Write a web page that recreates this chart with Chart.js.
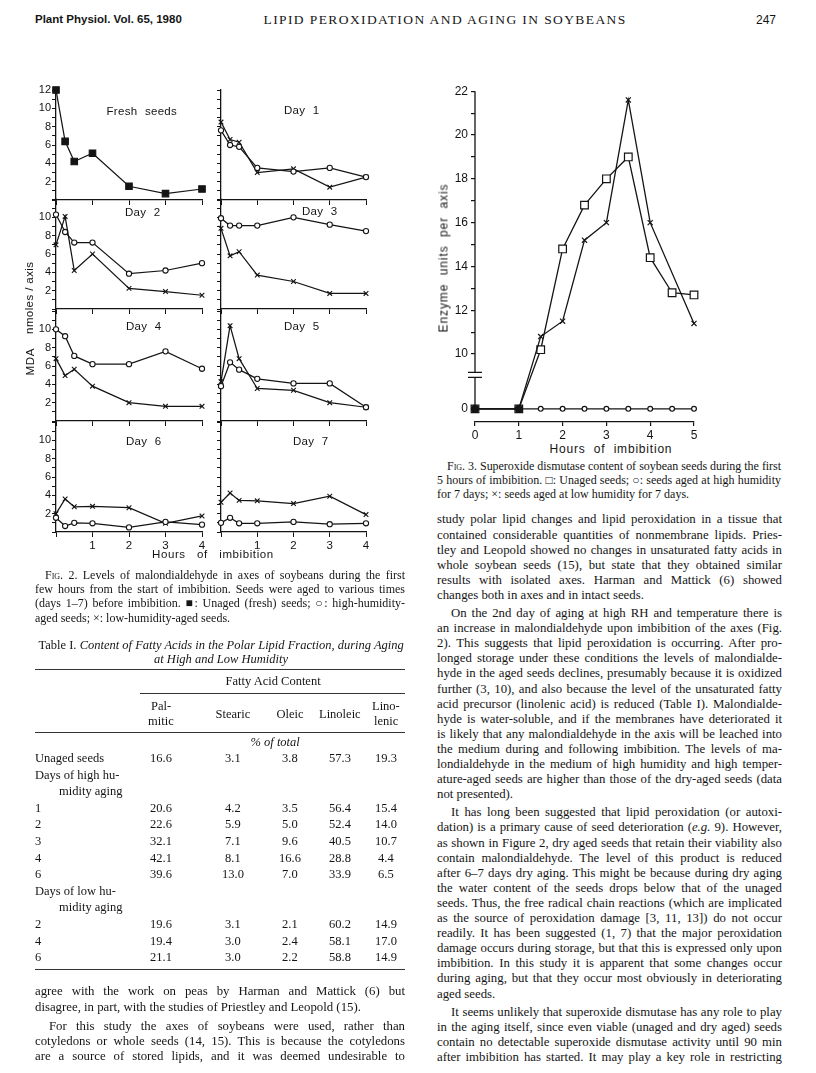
<!DOCTYPE html>
<html>
<head>
<meta charset="utf-8">
<script src="https://cdn.jsdelivr.net/npm/chart.js@4.4.1/dist/chart.umd.min.js"></script>
<style>
  body { margin: 0; background: #fff; }
  #page { position: relative; width: 816px; height: 1073px; overflow: hidden; color: #151515;
          font-family: "Liberation Serif", "Times New Roman", serif; }
  #page canvas { position: absolute; }
  .t { position: absolute; white-space: nowrap; }
  .ln { position: absolute; white-space: nowrap; text-align: justify; text-align-last: justify; }
  .ln.end { text-align-last: left; }
  .sans { font-family: "Liberation Sans", Arial, sans-serif; }
  .rule { position: absolute; height: 0; border-top: 1px solid #333; }
  .sc { font-variant: small-caps; }
</style>
</head>
<body>
<div id="page"></div>
<script>
// ---- Fig. 2 : MDA (nmoles / axis) vs hours of imbibition ----
const hours2 = [0, 0.25, 0.5, 1, 2, 3, 4];
const fresh    = [12.0, 6.4, 4.2, 5.1, 1.5, 0.7, 1.2];
const day1High = [7.6, 6.0, 5.8, 3.5, 3.1, 3.5, 2.5];
const day1Low  = [8.5, 6.6, 6.3, 3.0, 3.4, 1.4, 2.5];
const day2High = [10.3, 8.4, 7.25, 7.25, 3.85, 4.2, 5.0];
const day2Low  = [7.0, 10.1, 4.2, 6.0, 2.25, 1.9, 1.5];
const day3High = [9.9, 9.1, 9.1, 9.1, 10.0, 9.2, 8.5];
const day3Low  = [8.8, 5.8, 6.25, 3.7, 3.0, 1.7, 1.7];
const day4High = [10.0, 9.25, 7.1, 6.2, 6.2, 7.6, 5.7];
const day4Low  = [6.8, 4.95, 5.65, 3.8, 2.0, 1.6, 1.6];
const day5High = [3.8, 6.4, 5.6, 4.6, 4.1, 4.1, 1.5];
const day5Low  = [4.3, 10.4, 6.8, 3.55, 3.35, 2.0, 1.5];
const day6High = [1.55, 0.65, 1.0, 0.95, 0.5, 1.1, 0.8];
const day6Low  = [2.0, 3.6, 2.75, 2.8, 2.65, 0.95, 1.75];
const day7High = [1.0, 1.55, 0.95, 0.95, 1.1, 0.85, 0.95];
const day7Low  = [3.25, 4.25, 3.45, 3.4, 3.1, 3.9, 1.9];
const panelTitles = ['Fresh seeds', 'Day 1', 'Day 2', 'Day 3', 'Day 4', 'Day 5', 'Day 6', 'Day 7'];
const mdaTicks = [2, 4, 6, 8, 10, 12];
const hourTicks = [1, 2, 3, 4];

// ---- Fig. 3 : superoxide dismutase ----
const hours3 = [0, 1, 1.5, 2, 2.5, 3, 3.5, 4, 4.5, 5];
const sodUnaged  = [0, 0, 10.2, 14.8, 16.8, 18.0, 19.0, 14.4, 12.8, 12.7];
const sodLowHum  = [0, 0, 10.8, 11.5, 15.2, 16.0, 21.6, 16.0, null, 11.4];
const sodHighHum = [0, 0, 0, 0, 0, 0, 0, 0, 0, 0];
const sodTicks = [0, 10, 12, 14, 16, 18, 20, 22];

// ---- Table I ----
const acidHeads = [['Pal-', 'mitic'], ['Stearic'], ['Oleic'], ['Linoleic'], ['Lino-', 'lenic']];
const tableRows = [
  ['Unaged seeds', 16.6, 3.1, 3.8, 57.3, 19.3],
  ['Days of high hu-'],
  ['midity aging'],
  ['1', 20.6, 4.2, 3.5, 56.4, 15.4],
  ['2', 22.6, 5.9, 5.0, 52.4, 14.0],
  ['3', 32.1, 7.1, 9.6, 40.5, 10.7],
  ['4', 42.1, 8.1, 16.6, 28.8, 4.4],
  ['6', 39.6, 13.0, 7.0, 33.9, 6.5],
  ['Days of low hu-'],
  ['midity aging'],
  ['2', 19.6, 3.1, 2.1, 60.2, 14.9],
  ['4', 19.4, 3.0, 2.4, 58.1, 17.0],
  ['6', 21.1, 3.0, 2.2, 58.8, 14.9]
];

const page = document.getElementById('page');
const INK = '#141414';
const SANS = '"Liberation Sans", Arial, sans-serif';
Chart.defaults.font.family = SANS;
Chart.defaults.color = INK;

function text(str, x, y, opts = {}) {
  const d = document.createElement('div');
  d.className = 't' + (opts.cls ? ' ' + opts.cls : '');
  const size = opts.size || 12;
  d.style.fontSize = size + 'px';
  d.style.lineHeight = size + 'px';
  d.style.top = (y - size / 2) + 'px';
  if (opts.style) Object.assign(d.style, opts.style);
  d.innerHTML = str;
  page.appendChild(d);
  if (opts.center) d.style.left = (x - d.offsetWidth / 2) + 'px';
  else if (opts.right) d.style.left = (x - d.offsetWidth) + 'px';
  else d.style.left = x + 'px';
  return d;
}
function vtext(str, cx, cy, opts = {}) {
  const d = text(str, cx, cy, Object.assign({ center: true }, opts));
  d.style.transform = 'rotate(-90deg)';
  return d;
}
function rule(x1, x2, y) {
  const r = document.createElement('div');
  r.className = 'rule';
  r.style.left = x1 + 'px'; r.style.width = (x2 - x1) + 'px'; r.style.top = y + 'px';
  page.appendChild(r);
}
function lines(list, x, w, y0, lh, size, opts = {}) {
  let y = y0;
  list.forEach((par, pi) => {
    par.forEach((s, i) => {
      const d = document.createElement('div');
      const last = i === par.length - 1 && !(opts.openLast && pi === list.length - 1);
      d.className = 'ln' + (last ? ' end' : '');
      const ind = (i === 0 && (pi > 0 || opts.indentFirst)) ? (opts.indent || 13) : 0;
      d.style.left = (x + ind) + 'px';
      d.style.width = (w - ind) + 'px';
      d.style.top = (y - lh / 2) + 'px';
      d.style.fontSize = size + 'px';
      d.style.lineHeight = lh + 'px';
      d.innerHTML = s;
      page.appendChild(d);
      if (d.scrollWidth > d.clientWidth) {
        const n = d.textContent.length;
        d.style.letterSpacing = (-(d.scrollWidth - d.clientWidth + 1) / n) + 'px';
      }
      y += lh;
    });
    y += opts.gap || 0;
  });
}
function canvasAt(left, top, w, h) {
  const c = document.createElement('canvas');
  c.width = w; c.height = h;
  c.style.left = left + 'px'; c.style.top = top + 'px';
  c.style.width = w + 'px'; c.style.height = h + 'px';
  page.appendChild(c);
  return c;
}

// header
text('Plant Physiol. Vol. 65, 1980', 35, 20, { cls: 'sans', size: 11.5, style: { fontWeight: 'bold' } });
text('LIPID PEROXIDATION AND AGING IN SOYBEANS', 445, 20, { size: 13.5, center: true, style: { letterSpacing: '1.4px' } });
text('247', 776, 20, { cls: 'sans', size: 12, right: true });

// ---------- Fig. 2 panels ----------
const MARK = {
  fresh: { pointStyle: 'rect', pointRadius: 4.6, pointBackgroundColor: INK },
  high:  { pointStyle: 'circle', pointRadius: 2.6, pointBackgroundColor: '#fff' },
  low:   { pointStyle: 'crossRot', pointRadius: 3.3, pointBackgroundColor: INK }
};
const YW = 30, PT = 8, PR = 12, XH = 24;
const colX = [[56, 146], [221, 145]];
const rowY = [90, 199, 311, 422];
const AH = 110;

function panel(col, row, sets) {
  const [ax, aw] = colX[col];
  const ay = rowY[row];
  const showY = col === 0, showX = row === 3;
  const yLabMax = row === 0 ? 12 : 10;
  const c = canvasAt(ax - YW, ay - PT, YW + aw + PR, PT + AH + XH);
  new Chart(c, {
    type: 'line',
    data: {
      datasets: sets.map(([kind, vals]) => Object.assign({
        data: hours2.map((h, i) => ({ x: h, y: vals[i] })),
        borderColor: INK, borderWidth: 1.25, pointBorderColor: INK, pointBorderWidth: 1.1,
        tension: 0, fill: false, clip: false
      }, MARK[kind]))
    },
    options: {
      responsive: false, animation: false, devicePixelRatio: 1,
      layout: { padding: { top: PT, right: PR, left: 0, bottom: 0 } },
      plugins: { legend: { display: false }, tooltip: { enabled: false } },
      scales: {
        x: {
          type: 'linear', min: 0, max: 4,
          grid: { drawOnChartArea: false, drawTicks: true, tickLength: 5, color: INK, lineWidth: 1 },
          border: { display: true, color: INK, width: 1.3 },
          ticks: { stepSize: 1, autoSkip: false, maxRotation: 0, padding: 2, font: { size: 11.5 },
                   callback: v => (showX && hourTicks.includes(v)) ? String(v) : '' },
          afterFit: s => { s.height = XH; }
        },
        y: {
          min: 0, max: 12,
          grid: { drawOnChartArea: false, drawTicks: true, tickLength: 4, color: INK, lineWidth: 1 },
          border: { display: true, color: INK, width: 1.3 },
          ticks: { stepSize: 1, autoSkip: false, padding: 1, font: { size: 11 },
                   callback: v => (showY && mdaTicks.includes(v) && v <= yLabMax) ? String(v) : '' },
          afterFit: s => { s.width = YW; }
        }
      }
    }
  });
}

panel(0, 0, [['fresh', fresh]]);
panel(1, 0, [['high', day1High], ['low', day1Low]]);
panel(0, 1, [['high', day2High], ['low', day2Low]]);
panel(1, 1, [['high', day3High], ['low', day3Low]]);
panel(0, 2, [['high', day4High], ['low', day4Low]]);
panel(1, 2, [['high', day5High], ['low', day5Low]]);
panel(0, 3, [['high', day6High], ['low', day6Low]]);
panel(1, 3, [['high', day7High], ['low', day7Low]]);

const titlePos = [[142, 112], [302, 111], [143, 213], [320, 212], [144, 327], [302, 327], [144, 442], [311, 442]];
panelTitles.forEach((t, i) => text(t, titlePos[i][0], titlePos[i][1],
  { cls: 'sans', size: 11.5, center: true, style: { wordSpacing: '4px', letterSpacing: '0.3px' } }));
text('Hours &nbsp; of &nbsp; imbibition', 213, 555, { cls: 'sans', size: 11.5, center: true, style: { letterSpacing: '0.6px' } });
vtext('nmoles / axis', 30, 298, { cls: 'sans', size: 11.5, style: { letterSpacing: '0.4px' } });
vtext('MDA', 30, 362, { cls: 'sans', size: 11.5, style: { letterSpacing: '0.6px' } });

// ---------- Fig. 3 ----------
const brk = v => v == null ? null : (v >= 10 ? v - 7.5 : v * 0.25);
const Y3TOP = brk(22);
const brokenAxis = {
  id: 'brokenAxis',
  afterDraw(chart) {
    const ys = chart.scales.y, ctx = chart.ctx, x = chart.chartArea.left;
    const p0 = ys.getPixelForValue(0), pt = ys.getPixelForValue(Y3TOP), pb = ys.getPixelForValue(1.55);
    ctx.save();
    ctx.strokeStyle = INK; ctx.lineWidth = 1.3;
    ctx.beginPath();
    ctx.moveTo(x, pt); ctx.lineTo(x, pb - 2.5);
    ctx.moveTo(x, pb + 2.5); ctx.lineTo(x, p0);
    ctx.moveTo(x - 7, pb - 2.5); ctx.lineTo(x + 7, pb - 2.5);
    ctx.moveTo(x - 7, pb + 2.5); ctx.lineTo(x + 7, pb + 2.5);
    ctx.stroke();
    ctx.restore();
  }
};
const YW3 = 42, PT3 = 8, PR3 = 14, XH3 = 20;
const a3 = { l: 475, t: 89, r: 694, b: 422 };
const c3 = canvasAt(a3.l - YW3, a3.t - PT3, YW3 + (a3.r - a3.l) + PR3, PT3 + (a3.b - a3.t) + XH3);
const xy3 = vals => hours3.map((h, i) => ({ x: h, y: brk(vals[i]) }));
new Chart(c3, {
  type: 'line',
  data: {
    datasets: [
      { data: xy3(sodHighHum), pointStyle: 'circle',
        pointRadius: hours3.map(h => h <= 1 ? 3.6 : 2.4),
        pointBackgroundColor: hours3.map(h => h <= 1 ? INK : '#fff') },
      { data: xy3(sodLowHum), pointStyle: 'crossRot', pointRadius: 3.6, spanGaps: true },
      { data: xy3(sodUnaged), pointStyle: 'rect', pointRadius: 5.4, pointBackgroundColor: '#fff' }
    ].map(d => Object.assign({ borderColor: INK, borderWidth: 1.3, pointBorderColor: INK,
                               pointBorderWidth: 1.2, tension: 0, fill: false, clip: false }, d))
  },
  options: {
    responsive: false, animation: false, devicePixelRatio: 1,
    layout: { padding: { top: PT3, right: PR3, left: 0, bottom: 0 } },
    plugins: { legend: { display: false }, tooltip: { enabled: false } },
    scales: {
      x: {
        type: 'linear', min: 0, max: 5,
        grid: { drawOnChartArea: false, drawTicks: true, tickLength: 4, color: INK, lineWidth: 1.2 },
        border: { display: true, color: INK, width: 1.3 },
        ticks: { stepSize: 1, autoSkip: false, maxRotation: 0, padding: 2, font: { size: 12 } },
        afterFit: s => { s.height = XH3; }
      },
      y: {
        min: -0.6, max: Y3TOP,
        grid: { drawOnChartArea: false, drawTicks: true, tickLength: 4, color: INK, lineWidth: 1.2 },
        border: { display: false },
        afterBuildTicks: s => {
          const t = [{ value: 0 }];
          for (let v = 10; v <= 22; v++) t.push({ value: brk(v) });
          s.ticks = t;
        },
        ticks: { autoSkip: false, padding: 3, font: { size: 12 },
                 callback: v => { const real = v === 0 ? 0 : Math.round(v + 7.5);
                                  return sodTicks.includes(real) ? String(real) : ''; } },
        afterFit: s => { s.width = YW3; }
      }
    }
  },
  plugins: [brokenAxis]
});
vtext('Enzyme &nbsp;units &nbsp;per &nbsp;axis', 443, 258, { cls: 'sans', size: 12, style: { letterSpacing: '0.9px' } });
text('Hours &nbsp;of &nbsp;imbibition', 611, 449, { cls: 'sans', size: 12, center: true, style: { letterSpacing: '0.8px' } });

// ---------- captions ----------
lines([[
  '<span class="sc">Fig.</span> 2. Levels of malondialdehyde in axes of soybeans during the first',
  'few hours from the start of imbibition. Seeds were aged to various times',
  '(days 1–7) before imbibition. ■: Unaged (fresh) seeds; ○: high-humidity-',
  'aged seeds; ×: low-humidity-aged seeds.'
]], 35, 370, 575, 14.2, 12, { indentFirst: true, indent: 10 });
lines([[
  '<span class="sc">Fig.</span> 3. Superoxide dismutase content of soybean seeds during the first',
  '5 hours of imbibition. □: Unaged seeds; ○: seeds aged at high humidity',
  'for 7 days; ×: seeds aged at low humidity for 7 days.'
]], 437, 344, 466, 14.2, 12, { indentFirst: true, indent: 10 });

// ---------- Table I ----------
const T0 = 645, TS = 1.08;
const ty = d => T0 + d * TS;
text('Table I. <i>Content of Fatty Acids in the Polar Lipid Fraction, during Aging</i>', 221, ty(0), { size: 12.5, center: true });
text('<i>at High and Low Humidity</i>', 221, ty(13), { size: 12.5, center: true });
rule(35, 405, ty(22));
text('Fatty Acid Content', 273, ty(34), { size: 12.5, center: true });
rule(140, 405, ty(44));
const colC = [161, 233, 290, 340, 386];
acidHeads.forEach((h, i) => {
  if (h.length === 2) {
    text(h[0], colC[i], ty(57), { size: 12.5, center: true });
    text(h[1], colC[i], ty(71), { size: 12.5, center: true });
  } else text(h[0], colC[i], ty(64), { size: 12.5, center: true });
});
rule(35, 405, ty(81));
text('<i>% of total</i>', 275, ty(90), { size: 12.5, center: true });
tableRows.forEach((r, i) => {
  const y = ty(105 + i * 15.35);
  const indent = r[0] === 'midity aging' ? 24 : 0;
  text(r[0], 35 + indent, y, { size: 12.5 });
  r.slice(1).forEach((v, j) => text(v.toFixed(1), colC[j], y, { size: 12.5, center: true }));
});
rule(35, 405, ty(300));

// ---------- body text ----------
lines([
  ['agree with the work on peas by Harman and Mattick (6) but',
   'disagree, in part, with the studies of Priestley and Leopold (15).'],
  ['For this study the axes of soybeans were used, rather than',
   'cotyledons or whole seeds (14, 15). This is because the cotyledons',
   'are a source of stored lipids, and it was deemed undesirable to']
], 35, 370, 992, 15.1, 12.8, { gap: 4, openLast: true, indent: 14 });

lines([
  ['study polar lipid changes and lipid peroxidation in a tissue that',
   'contained considerable quantities of nonmembrane lipids. Pries-',
   'tley and Leopold showed no changes in unsaturated fatty acids in',
   'whole soybean seeds (15), but state that they obtained similar',
   'results with isolated axes. Harman and Mattick (6) showed',
   'changes both in axes and in intact seeds.'],
  ['On the 2nd day of aging at high RH and temperature there is',
   'an increase in malondialdehyde upon imbibition of the axes (Fig.',
   '2). This suggests that lipid peroxidation is occurring. After pro-',
   'longed storage under these conditions the levels of malondialde-',
   'hyde in the aged seeds declines, presumably because it is oxidized',
   'further (3, 10), and also because the level of the unsaturated fatty',
   'acid precursor (linolenic acid) is reduced (Table I). Malondialde-',
   'hyde is water-soluble, and if the membranes have deteriorated it',
   'is likely that any malondialdehyde in the axis will be leached into',
   'the medium during and following imbibition. The levels of ma-',
   'londialdehyde in the medium of high humidity and high temper-',
   'ature-aged seeds are higher than those of the dry-aged seeds (data',
   'not presented).'],
  ['It has long been suggested that lipid peroxidation (or autoxi-',
   'dation) is a primary cause of seed deterioration (<i>e.g.</i> 9). However,',
   'as shown in Figure 2, dry aged seeds that retain their viability also',
   'contain malondialdehyde. The level of this product is reduced',
   'after 6–7 days dry aging. This might be because during dry aging',
   'the water content of the seeds drops below that of the unaged',
   'seeds. Thus, the free radical chain reactions (which are implicated',
   'as the source of peroxidation damage [3, 11, 13]) do not occur',
   'readily. It has been suggested (1, 7) that the major peroxidation',
   'damage occurs during storage, but that this is expressed only upon',
   'imbibition. In this study it is apparent that some changes occur',
   'during aging, but that they occur most obviously in deteriorating',
   'aged seeds.'],
  ['It seems unlikely that superoxide dismutase has any role to play',
   'in the aging itself, since even viable (unaged and dry aged) seeds',
   'contain no detectable superoxide dismutase activity until 90 min',
   'after imbibition has started. It may play a key role in restricting']
], 437, 345, 520, 15.1, 12.8, { gap: 3, openLast: true, indent: 14 });
</script>
</body>
</html>
